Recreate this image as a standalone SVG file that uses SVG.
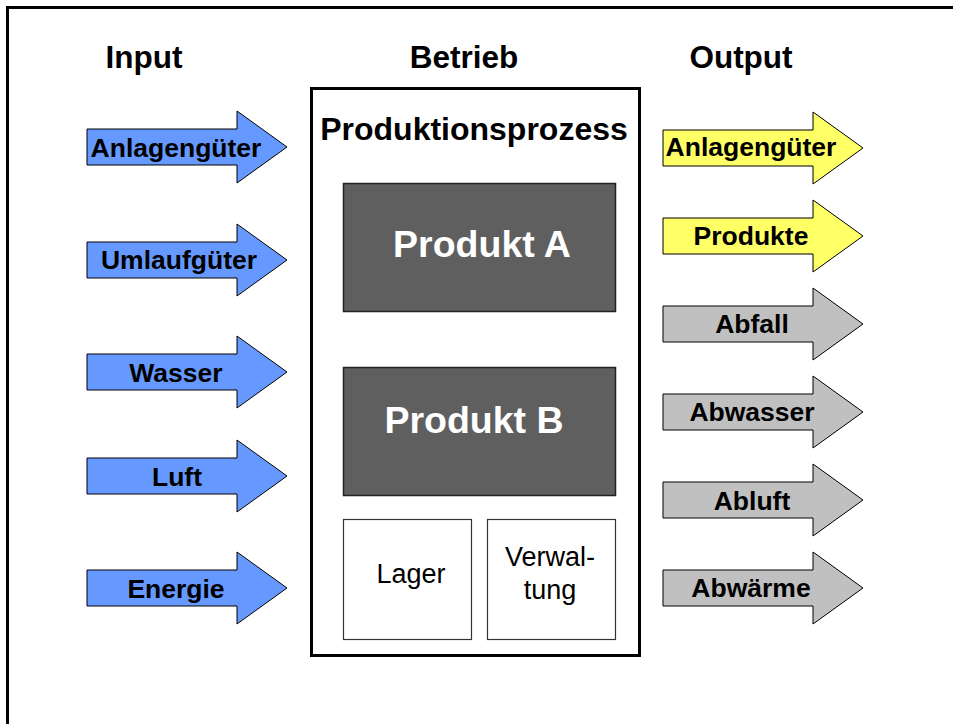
<svg xmlns="http://www.w3.org/2000/svg" width="953" height="724" viewBox="0 0 953 724">
<style>
text{font-family:"Liberation Sans",Arial,sans-serif;}
.h{font-size:31.5px;font-weight:bold;fill:#000;text-anchor:middle;}
.lab{font-size:26.5px;font-weight:bold;fill:#000;text-anchor:middle;}
.in{fill:#6699ff;stroke:#000;stroke-width:1;}
.yel{fill:#ffff66;stroke:#000;stroke-width:1;}
.gry{fill:#c0c0c0;stroke:#000;stroke-width:1;}
.prod{fill:#5f5f5f;stroke:#222;stroke-width:1.5;}
.pt{font-size:37.5px;font-weight:bold;fill:#fff;text-anchor:middle;}
.small{fill:#fff;stroke:#333;stroke-width:1.2;}
.st{font-size:27px;fill:#000;text-anchor:middle;}
</style>
<rect x="0" y="0" width="953" height="724" fill="#fff"/>
<rect id="frame" x="7.5" y="7.5" width="1000" height="800" fill="none" stroke="#000" stroke-width="3"/>
<g id="headers">
<text class="h" x="144" y="68">Input</text>
<text class="h" x="464" y="68">Betrieb</text>
<text class="h" x="741" y="68">Output</text>
</g>
<g id="betrieb">
<rect x="311.5" y="88.5" width="328" height="567" fill="#fff" stroke="#000" stroke-width="3"/>
<text x="474" y="140" font-size="32" font-weight="bold" text-anchor="middle" font-family="Liberation Sans, Arial, sans-serif">Produktionsprozess</text>
</g>
<g id="produktA">
<rect class="prod" x="343.5" y="183.5" width="272" height="128"/>
<text class="pt" x="482" y="257">Produkt A</text>
</g>
<g id="produktB">
<rect class="prod" x="343.5" y="367.5" width="272" height="128"/>
<text class="pt" x="474" y="433">Produkt B</text>
</g>
<g id="lager">
<rect class="small" x="343.5" y="519.5" width="128" height="120"/>
<text class="st" x="411" y="583">Lager</text>
</g>
<g id="verwaltung">
<rect class="small" x="487.5" y="519.5" width="128" height="120"/>
<text class="st" x="550" y="566">Verwal-</text>
<text class="st" x="550" y="599">tung</text>
</g>
<g id="connectors">
<g id="in-anlagen"><path class="in" d="M87,129 H237 V111 L287,147 L237,183 V165 H87 Z"/><text class="lab" x="176" y="157">Anlagengüter</text></g>
<g id="in-umlauf"><path class="in" d="M87,242 H237 V224 L287,260 L237,296 V278 H87 Z"/><text class="lab" x="179" y="269">Umlaufgüter</text></g>
<g id="in-wasser"><path class="in" d="M87,354 H237 V336 L287,372 L237,408 V390 H87 Z"/><text class="lab" x="176" y="382">Wasser</text></g>
<g id="in-luft"><path class="in" d="M87,458 H237 V440 L287,476 L237,512 V494 H87 Z"/><text class="lab" x="177" y="486">Luft</text></g>
<g id="in-energie"><path class="in" d="M87,570 H237 V552 L287,588 L237,624 V606 H87 Z"/><text class="lab" x="176" y="598">Energie</text></g>
<g id="out-anlagen"><path class="yel" d="M663,130 H813 V112 L863,148 L813,184 V166 H663 Z"/><text class="lab" x="751" y="156">Anlagengüter</text></g>
<g id="out-produkte"><path class="yel" d="M663,218 H813 V200 L863,236 L813,272 V254 H663 Z"/><text class="lab" x="751" y="245">Produkte</text></g>
<g id="out-abfall"><path class="gry" d="M663,306 H813 V288 L863,324 L813,360 V342 H663 Z"/><text class="lab" x="752" y="333">Abfall</text></g>
<g id="out-abwasser"><path class="gry" d="M663,394 H813 V376 L863,412 L813,448 V430 H663 Z"/><text class="lab" x="752" y="421">Abwasser</text></g>
<g id="out-abluft"><path class="gry" d="M663,482 H813 V464 L863,500 L813,536 V518 H663 Z"/><text class="lab" x="752" y="510">Abluft</text></g>
<g id="out-abwaerme"><path class="gry" d="M663,570 H813 V552 L863,588 L813,624 V606 H663 Z"/><text class="lab" x="751" y="597">Abwärme</text></g>
</g>
</svg>
